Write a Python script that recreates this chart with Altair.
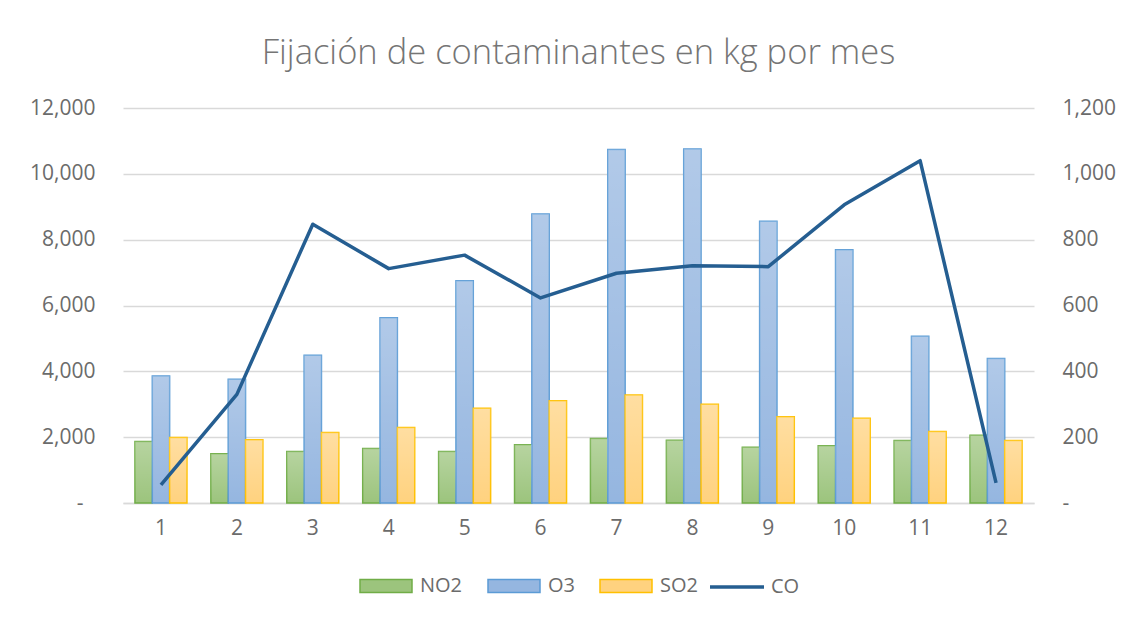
import altair as alt
import pandas as pd

months = [1, 2, 3, 4, 5, 6, 7, 8, 9, 10, 11, 12]
series_names = ["NO2", "O3", "SO2"]
no2 = [1867, 1494, 1564, 1655, 1564, 1767, 1958, 1909, 1697, 1736, 1897, 2061]
o3 = [3860, 3760, 4490, 5626, 6752, 8782, 10740, 10752, 8560, 7696, 5068, 4390]
so2 = [1988, 1918, 2139, 2291, 2879, 3109, 3282, 3000, 2624, 2576, 2170, 1897]
co = [55, 330, 847, 712, 753, 623, 698, 721, 718, 906, 1040, 61]

left_ticks = [0, 2000, 4000, 6000, 8000, 10000, 12000]
right_ticks = [0, 200, 400, 600, 800, 1000, 1200]

fill_colors = ["#9cc47d", "#95b6e0", "#ffd27f"]
stroke_colors = ["#70ad47", "#5b9bd5", "#ffc000"]
line_color = "#255e91"
text_color = "#6b6b6b"
grid_color = "#d9d9d9"
FONT = "Open Sans"

rows = []
for name, vals in zip(series_names, [no2, o3, so2]):
    for m, v in zip(months, vals):
        rows.append({"mes": m, "serie": name, "valor": v})
bars_df = pd.DataFrame(rows)
line_df = pd.DataFrame({"mes": months, "valor": co, "serie": ["CO"] * len(months)})

label_expr = "datum.value == 0 ? '-' : format(datum.value, ',')"

x_enc = alt.X(
    "mes:O",
    title=None,
    scale=alt.Scale(paddingInner=0.315, paddingOuter=0.1575),
    axis=alt.Axis(
        labelAngle=0, ticks=False, domainColor=grid_color, domainWidth=1.5,
        labelFont=FONT, labelFontSize=21, labelColor=text_color, labelPadding=14,
    ),
)
xoff = alt.XOffset("serie:N", scale=alt.Scale(domain=series_names, paddingInner=0, paddingOuter=0))

y_left = alt.Y(
    "valor:Q",
    title=None,
    scale=alt.Scale(domain=[0, 12000], nice=False),
    axis=alt.Axis(
        orient="left", values=left_ticks, labelExpr=label_expr, grid=True,
        gridColor=grid_color, gridWidth=1.3, domain=False, ticks=False,
        labelFont=FONT, labelFontSize=21, labelColor=text_color,
        labelPadding={"condition": {"test": "datum.value == 0", "value": 40}, "value": 28},
    ),
)

bar_legend = alt.Legend(
    title=None, orient="none", direction="horizontal", legendX=236, legendY=451,
    symbolType="M-1,-0.25H1V0.25H-1Z", symbolSize=2704, symbolStrokeWidth=1.5,
    labelFont=FONT, labelFontSize=20, labelColor=text_color, labelOffset=7,
    columnPadding=22, symbolOpacity=1,
)

bar_fill = alt.Chart(bars_df).mark_bar(strokeWidth=1.5, opacity=1).encode(
    x=x_enc,
    xOffset=xoff,
    y=y_left,
    fill=alt.Fill("serie:N", scale=alt.Scale(domain=series_names, range=fill_colors), legend=bar_legend),
    stroke=alt.Stroke("serie:N", scale=alt.Scale(domain=series_names, range=stroke_colors), legend=bar_legend),
)

grad = alt.LinearGradient(
    gradient="linear",
    stops=[
        alt.GradientStop(color="rgba(255,255,255,0.27)", offset=0),
        alt.GradientStop(color="rgba(255,255,255,0)", offset=1),
    ],
    x1=0, x2=0, y1=0, y2=1,
)
bar_grad = alt.Chart(bars_df).mark_bar(color=grad).encode(
    x=x_enc, xOffset=xoff, y=alt.Y("valor:Q")
)

bars = alt.layer(bar_fill, bar_grad)

line = alt.Chart(line_df).mark_line(strokeWidth=3.5, strokeJoin="round").encode(
    x=alt.X("mes:O"),
    y=alt.Y(
        "valor:Q",
        title=None,
        scale=alt.Scale(domain=[0, 1200], nice=False),
        axis=alt.Axis(
            orient="right", values=right_ticks, labelExpr=label_expr, grid=False,
            domain=False, ticks=False, labelFont=FONT, labelFontSize=21,
            labelColor=text_color, labelPadding=28,
        ),
    ),
    color=alt.Color(
        "serie:N",
        scale=alt.Scale(domain=["CO"], range=[line_color]),
        legend=alt.Legend(
            title=None, orient="none", direction="horizontal", legendX=585, legendY=450,
            symbolType="stroke", symbolSize=2916, symbolStrokeWidth=3.5,
            labelFont=FONT, labelFontSize=20, labelColor=text_color, labelOffset=5,
        ),
    ),
)

chart = (
    alt.layer(bars, line)
    .resolve_scale(y="independent")
    .properties(
        width=911,
        height=395,
        padding={"left": 115, "top": 100, "right": 87, "bottom": 110},
        autosize=alt.AutoSizeParams(type="none"),
        title=alt.TitleParams(
            text="Fijación de contaminantes en kg por mes",
            font=FONT, fontSize=34.5, fontWeight=300, color="#757575",
            anchor="middle", offset=26,
        ),
    )
    .configure_view(stroke=None)
)

chart.save("out.html", embed_options={"renderer": "svg", "actions": False})
